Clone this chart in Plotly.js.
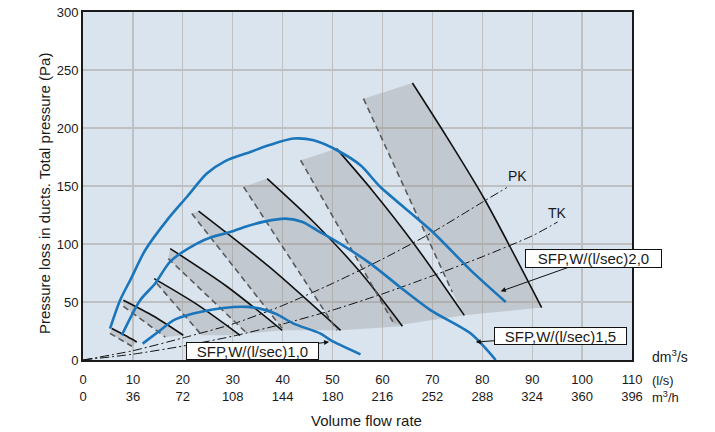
<!DOCTYPE html>
<html><head><meta charset="utf-8">
<script src="https://cdn.plot.ly/plotly-3.0.1.min.js"></script>
<style>html,body{margin:0;padding:0;background:#fff}#chart{width:715px;height:432px}</style>
</head><body><div id="chart"></div>
<script>
// ---- axis ticks ----
const xTickVals = [0,10,20,30,40,50,60,70,80,90,100,110];
const xTickLs   = ['0','10','20','30','40','50','60','70','80','90','100','110'];
const xTickM3h  = ['0','36','72','108','144','180','216','252','288','324','360','396'];
const yTickVals = [0,50,100,150,200,250,300];

// ---- fan bands (8 sizes): solid = max speed, dashed = min speed ----
const fanSolidX = [
  [5.76, 8.3, 10.78],
  [8.09, 14.1, 20.1],
  [14.26, 22.9, 31.5],
  [17.47, 28.7, 39.9],
  [23.15, 37.4, 51.6],
  [36.9, 46.2, 55.5, 64.0],
  [50.8, 58.0, 66.3, 76.4],
  [66.0, 73.0, 80.4, 91.9]
];
const fanSolidY = [
  [27.1, 21.5, 15.5],
  [51.5, 37.9, 21.3],
  [70.2, 47.8, 21.3],
  [96.0, 63.8, 25.6],
  [128.4, 80.0, 25.6],
  [156.4, 119.0, 76.0, 29.1],
  [182.2, 146.0, 100.3, 38.5],
  [238.8, 191.5, 139.0, 45.2]
];
const fanDashX = [
  [5.4, 9.8],
  [8.09, 16.5],
  [14.8, 23.8],
  [17.1, 32.9],
  [21.8, 40.2],
  [32.2, 50.9],
  [43.6, 62.3],
  [56.2, 74.0]
];
const fanDashY = [
  [23.0, 11.8],
  [46.3, 19.8],
  [65.9, 21.3],
  [87.4, 22.8],
  [126.2, 25.6],
  [149.1, 25.6],
  [172.2, 31.4],
  [225.3, 58.6]
];
// lower corner where the grey band meets the common lower edge
const fanFloorX = [null, null, null, null, null, 51.6, 64.0, 76.4];
const fanFloorY = [null, null, null, null, null, 25.6, 30.5, 38.5];

// ---- SFP curves ----
const sfp20X = [5.42, 7.43, 9.6, 12.45, 16.8, 20.8, 24.8, 28.5, 33.5, 37.5, 42.2, 46.2, 50.9, 55.6, 59.6, 69.7, 77.7, 84.7];
const sfp20Y = [27.1, 51.5, 70.0, 94.6, 120.4, 140.5, 160.7, 171.5, 179.3, 185.5, 190.9, 189.4, 180.8, 167.8, 149.1, 111.8, 77.3, 50.0];
const sfp15X = [7.77, 11.45, 14.46, 17.5, 22.8, 25.8, 29.5, 33.0, 36.5, 40.6, 44.0, 46.9, 52.0, 57.6, 63.5, 69.7, 77.7, 82.7];
const sfp15Y = [21.3, 51.5, 65.9, 85.0, 100.3, 106.0, 110.3, 115.5, 119.5, 121.9, 119.0, 111.8, 99.0, 83.1, 63.0, 42.8, 22.8, 0];
const sfp10X = [11.95, 15.5, 18.1, 22.1, 26.0, 30.2, 33.0, 35.5, 38.8, 42.2, 47.6, 49.6, 55.6];
const sfp10Y = [14.1, 25.6, 34.2, 40.0, 43.6, 45.7, 45.8, 44.3, 39.5, 31.4, 22.8, 17.1, 4.9];

// ---- system curves ----
const pkX = [0, 10, 20, 30, 40, 50, 60, 70, 80, 84.9];
const pkY = [0, 8, 19, 31, 47, 66, 87, 110, 136, 148.6];
const tkX = [0, 10, 20, 30, 40, 50, 60, 70, 80, 90, 95.1];
const tkY = [0, 5, 12, 20.5, 31, 43, 57, 72.5, 89, 107, 119];

const FONT = 'Liberation Sans, Arial, Helvetica, sans-serif';
const BLUE = '#1b75bb';

const traces = [];
// grey bands
for (let i = 0; i < fanSolidX.length; i++) {
  let px = fanSolidX[i].slice(), py = fanSolidY[i].slice();
  if (fanFloorX[i] !== null) { px.push(fanFloorX[i]); py.push(fanFloorY[i]); }
  px = px.concat(fanDashX[i].slice().reverse());
  py = py.concat(fanDashY[i].slice().reverse());
  traces.push({x: px, y: py, type: 'scatter', mode: 'lines', fill: 'toself',
    fillcolor: 'rgba(146,144,140,0.32)', line: {width: 0}, hoverinfo: 'skip'});
}
// system curves
traces.push({x: pkX, y: pkY, type: 'scatter', mode: 'lines',
  line: {color: '#111', width: 1, dash: '9px,3px,2px,3px', shape: 'spline', smoothing: 0.6}});
traces.push({x: tkX, y: tkY, type: 'scatter', mode: 'lines',
  line: {color: '#111', width: 1, dash: '9px,3px,2px,3px', shape: 'spline', smoothing: 0.6}});
// dashed & solid fan lines
for (let i = 0; i < fanSolidX.length; i++) {
  traces.push({x: fanDashX[i], y: fanDashY[i], type: 'scatter', mode: 'lines',
    line: {color: '#5a5a5a', width: 1.6, dash: '6px,4px'}});
  traces.push({x: fanSolidX[i], y: fanSolidY[i], type: 'scatter', mode: 'lines',
    line: {color: '#111', width: 1.6, shape: 'spline', smoothing: 0.8}});
}
// SFP curves
[[sfp20X, sfp20Y], [sfp15X, sfp15Y], [sfp10X, sfp10Y]].forEach(([x, y]) => {
  traces.push({x, y, type: 'scatter', mode: 'lines',
    line: {color: BLUE, width: 2.6, shape: 'spline', smoothing: 0.75}});
});

const boxStyle = {showarrow: true, arrowhead: 2, arrowsize: 1, arrowwidth: 1, arrowcolor: '#111',
  bgcolor: '#fff', bordercolor: '#111', borderwidth: 1, borderpad: 0,
  width: 131, height: 16, align: 'center', font: {size: 15}};

const ann = [
  {x: 87.1, y: 159, text: 'PK', showarrow: false, font: {size: 14}},
  {x: 95.0, y: 126.5, text: 'TK', showarrow: false, font: {size: 14}},
  Object.assign({x: 83.7, y: 59.2, ax: 93, ay: -33, text: 'SFP,W/(l/sec)2,0'}, boxStyle, {width: 135, height: 17}),
  Object.assign({x: 78.7, y: 15.5, ax: 85, ay: -6, text: 'SFP,W/(l/sec)1,5'}, boxStyle),
  Object.assign({x: 49.3, y: 15.5, ax: -77, ay: 9, text: 'SFP,W/(l/sec)1,0'}, boxStyle),
  {xref: 'paper', yref: 'paper', x: 1.033, y: 0.011, xanchor: 'left', yanchor: 'middle',
   text: 'dm<sup>3</sup>/s', showarrow: false, font: {size: 14}},
  {xref: 'paper', yref: 'paper', x: 1.033, y: -0.0575, xanchor: 'left', yanchor: 'middle',
   text: '(l/s)', showarrow: false, font: {size: 13}},
  {xref: 'paper', yref: 'paper', x: 1.033, y: -0.106, xanchor: 'left', yanchor: 'middle',
   text: 'm<sup>3</sup>/h', showarrow: false, font: {size: 13}},
  {xref: 'paper', yref: 'paper', x: 0.517, y: -0.175, xanchor: 'center', yanchor: 'middle',
   text: 'Volume flow rate', showarrow: false, font: {size: 15}},
  {xref: 'paper', yref: 'paper', x: -0.069, y: 0.48, xanchor: 'center', yanchor: 'middle',
   textangle: -90, text: 'Pressure loss in ducts. Total pressure (Pa)', showarrow: false, font: {size: 15}}
];

const layout = {
  width: 715, height: 432,
  margin: {l: 83, r: 83, t: 12, b: 72, pad: 0},
  paper_bgcolor: '#ffffff', plot_bgcolor: '#d9e4ef',
  font: {family: FONT, color: '#1a1a1a', size: 13},
  showlegend: false,
  xaxis: {range: [0, 110], tickvals: xTickVals,
    ticktext: xTickLs.map((t, i) => t + '<br>' + xTickM3h[i]),
    ticklabelstandoff: 6,
    showgrid: true, gridcolor: '#bfc0c2', gridwidth: 1.3, zeroline: false,
    showline: true, linecolor: '#1a1a1a', linewidth: 2, mirror: true, ticks: '',
    tickfont: {size: 13}, fixedrange: true},
  yaxis: {range: [0, 300], tickvals: yTickVals,
    showgrid: true, gridcolor: '#bfc0c2', gridwidth: 1.3, zeroline: false,
    showline: true, linecolor: '#1a1a1a', linewidth: 2, mirror: true, ticks: '',
    tickfont: {size: 13}, fixedrange: true},
  annotations: ann
};

Plotly.newPlot('chart', traces, layout, {staticPlot: true, displayModeBar: false});
</script>
</body></html>
